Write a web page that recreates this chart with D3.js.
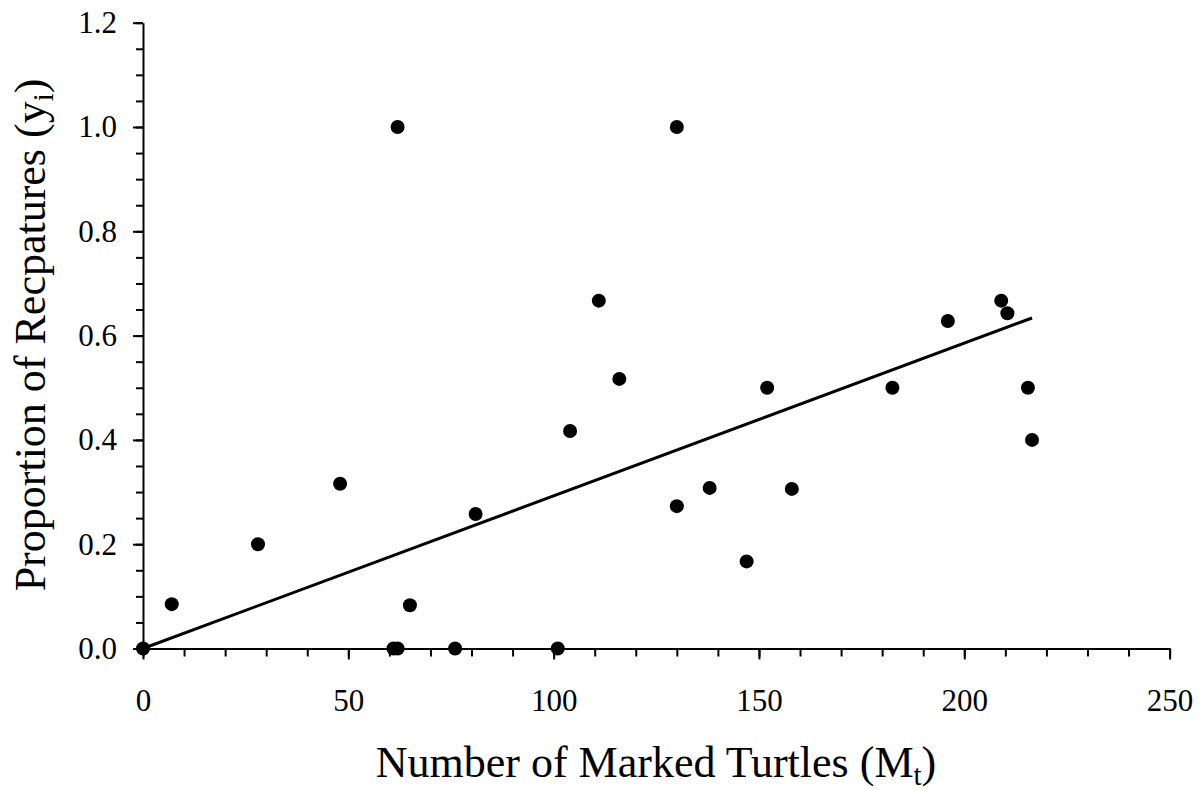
<!DOCTYPE html>
<html>
<head>
<meta charset="utf-8">
<script src="https://cdn.jsdelivr.net/npm/d3@7"></script>
<style>
  html, body { margin: 0; padding: 0; background: #fff; }
  svg { display: block; }
  text { font-family: "Liberation Serif", "Times New Roman", serif; fill: #000; }
</style>
</head>
<body>
<svg id="chart" width="1201" height="790"></svg>
<script>
// Marked turtles at each sampling occasion and the proportion recaptured
const markedTurtles = [0, 7, 28, 48, 61, 62, 62, 65, 76, 81, 101, 104, 111, 116, 130, 130,
                       138, 147, 152, 158, 182.5, 196, 209, 210.5, 215.5, 216.5];
const recaptureProportion = [0, 0.085, 0.2, 0.316, 0, 0, 1.0, 0.083, 0, 0.258, 0, 0.417, 0.667, 0.517, 1.0, 0.273,
                             0.308, 0.167, 0.5, 0.306, 0.5, 0.628, 0.667, 0.643, 0.5, 0.4];

// Axis tick values
const xMajorTicks = [0, 50, 100, 150, 200, 250];
const xMinorTicks = d3.range(0, 251, 10);
const yMajorTicks = [0, 0.2, 0.4, 0.6, 0.8, 1.0, 1.2];
const yMinorTicks = d3.range(0, 25).map(i => i * 0.05);

const svg = d3.select("#chart");
const plotLeft = 143, plotRight = 1169.6, plotTop = 22.7, plotBottom = 648.5;

const x = d3.scaleLinear().domain([0, 250]).range([plotLeft, plotRight]);
const y = d3.scaleLinear().domain([0, 1.2]).range([plotBottom, plotTop]);

// Regression through the origin: slope = Σxy / Σx²
const sxy = d3.sum(markedTurtles, (v, i) => v * recaptureProportion[i]);
const sxx = d3.sum(markedTurtles, v => v * v);
const slope = sxy / sxx;
const xMax = d3.max(markedTurtles);

// Minor ticks
svg.append("g")
  .attr("transform", `translate(0,${plotBottom})`)
  .call(d3.axisBottom(x).tickValues(xMinorTicks).tickSize(8).tickFormat(""))
  .call(g => g.select(".domain").remove())
  .call(g => g.selectAll("line").attr("stroke", "#000").attr("stroke-width", 2));

svg.append("g")
  .attr("transform", `translate(${plotLeft},0)`)
  .call(d3.axisLeft(y).tickValues(yMinorTicks).tickSize(7).tickFormat(""))
  .call(g => g.select(".domain").remove())
  .call(g => g.selectAll("line").attr("stroke", "#000").attr("stroke-width", 2));

// Major ticks and labels
const xAxis = svg.append("g")
  .attr("transform", `translate(0,${plotBottom})`)
  .call(d3.axisBottom(x).tickValues(xMajorTicks).tickSize(11).tickSizeOuter(0).tickPadding(29)
        .tickFormat(d3.format("d")));
xAxis.select(".domain").attr("stroke", "#000").attr("stroke-width", 2);
xAxis.selectAll("line").attr("stroke", "#000").attr("stroke-width", 2);
xAxis.selectAll("text").attr("font-size", 31).attr("font-family", "Liberation Serif");

const yAxis = svg.append("g")
  .attr("transform", `translate(${plotLeft},0)`)
  .call(d3.axisLeft(y).tickValues(yMajorTicks).tickSize(10).tickSizeOuter(0).tickPadding(16)
        .tickFormat(d3.format(".1f")));
yAxis.select(".domain").attr("stroke", "#000").attr("stroke-width", 2);
yAxis.selectAll("line").attr("stroke", "#000").attr("stroke-width", 2);
yAxis.selectAll("text").attr("font-size", 31).attr("font-family", "Liberation Serif");

// Fitted line
svg.append("line")
  .attr("x1", x(0)).attr("y1", y(0))
  .attr("x2", x(xMax)).attr("y2", y(slope * xMax))
  .attr("stroke", "#000").attr("stroke-width", 3);

// Observations
svg.append("g")
  .selectAll("circle")
  .data(markedTurtles)
  .join("circle")
  .attr("cx", d => x(d))
  .attr("cy", (d, i) => y(recaptureProportion[i]))
  .attr("r", 7)
  .attr("fill", "#000");

// Axis titles
const xTitle = svg.append("text")
  .attr("x", 656).attr("y", 777)
  .attr("text-anchor", "middle")
  .attr("font-size", 44);
xTitle.append("tspan").text("Number of Marked Turtles (M");
xTitle.append("tspan").attr("font-size", 29).attr("dy", 8).text("t");
xTitle.append("tspan").attr("dy", -8).text(")");

const yTitle = svg.append("text")
  .attr("transform", "translate(45,335) rotate(-90)")
  .attr("text-anchor", "middle")
  .attr("font-size", 44);
yTitle.append("tspan").text("Proportion of Recpatures (y");
yTitle.append("tspan").attr("font-size", 29).attr("dy", 8).text("i");
yTitle.append("tspan").attr("dy", -8).text(")");
</script>
</body>
</html>
